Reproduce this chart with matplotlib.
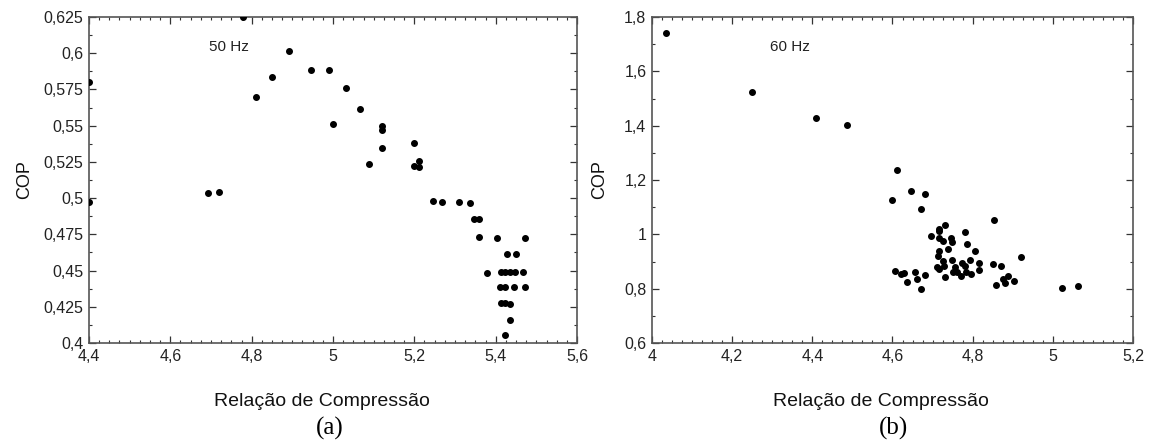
import matplotlib
matplotlib.use("Agg")
import matplotlib.pyplot as plt
from matplotlib.ticker import MultipleLocator, FuncFormatter

# Panel (a): 50 Hz
x50 = [4.400, 4.400, 4.693, 4.720, 4.779, 4.811, 4.850, 4.892, 4.946, 4.989,
       5.033, 5.066, 5.001, 5.121, 5.121, 5.121, 5.088, 5.198, 5.198, 5.211,
       5.211, 5.245, 5.268, 5.311, 5.336, 5.346, 5.358, 5.358, 5.403, 5.472,
       5.427, 5.450, 5.379, 5.412, 5.424, 5.435, 5.447, 5.468, 5.411, 5.424,
       5.446, 5.473, 5.412, 5.424, 5.436, 5.436, 5.424]
cop50 = [0.580, 0.4975, 0.5037, 0.504, 0.625, 0.570, 0.5836, 0.6015, 0.5884, 0.5884,
         0.576, 0.5617, 0.551, 0.550, 0.547, 0.5348, 0.5233, 0.538, 0.5224, 0.5254,
         0.5217, 0.498, 0.4975, 0.4975, 0.4968, 0.4854, 0.4854, 0.4734, 0.4727, 0.4727,
         0.4614, 0.4614, 0.4485, 0.449, 0.449, 0.449, 0.449, 0.449, 0.4384, 0.4384,
         0.4384, 0.4384, 0.4274, 0.4274, 0.4267, 0.4159, 0.4057]

# Panel (b): 60 Hz
x60 = [4.036, 4.250, 4.410, 4.4865, 4.610, 4.599, 4.645, 4.680, 4.670, 4.852,
       4.921, 5.023, 5.064, 4.696, 4.715, 4.717, 4.730, 4.716, 4.726, 4.746,
       4.749, 4.780, 4.786, 4.738, 4.716, 4.805, 4.713, 4.727, 4.749, 4.774,
       4.793, 4.815, 4.712, 4.729, 4.781, 4.756, 4.750, 4.760, 4.772, 4.784,
       4.795, 4.815, 4.730, 4.716, 4.851, 4.870, 4.8575, 4.876, 4.887, 4.880,
       4.902, 4.606, 4.620, 4.628, 4.637, 4.657, 4.662, 4.682, 4.672]
cop60 = [1.740, 1.5227, 1.429, 1.402, 1.2367, 1.1275, 1.159, 1.148, 1.093, 1.0527,
         0.9165, 0.8035, 0.8086, 0.9938, 1.0207, 1.0125, 1.0354, 0.9853, 0.9754, 0.9877,
         0.9717, 1.0097, 0.9655, 0.946, 0.9386, 0.9397, 0.919, 0.9018, 0.9055, 0.8956,
         0.9055, 0.8944, 0.8797, 0.882, 0.8845, 0.881, 0.8624, 0.8613, 0.8466, 0.860,
         0.8529, 0.870, 0.843, 0.871, 0.892, 0.8845, 0.8146, 0.8356, 0.8455, 0.8208,
         0.829, 0.865, 0.855, 0.8587, 0.8245, 0.8613, 0.8356, 0.850, 0.7976]

xlabel = "Relação de Compressão"
ylabel = "COP"

plt.rcParams['font.family'] = ['Liberation Sans', 'DejaVu Sans']

fig = plt.figure(figsize=(11.49, 4.45), dpi=100)
axa = fig.add_axes([89/1149, 1-343/445, (577-89)/1149, (343-17)/445])
axb = fig.add_axes([652/1149, 1-343/445, (1133-652)/1149, (343-17)/445])

def fmt(v, pos):
    return ("%g" % round(v, 4)).replace(".", ",")

def style(ax, xlim, ylim, xmaj, xmin, ymaj, ymin):
    ax.set_xlim(*xlim)
    ax.set_ylim(*ylim)
    ax.xaxis.set_major_locator(MultipleLocator(xmaj))
    ax.xaxis.set_minor_locator(MultipleLocator(xmin))
    ax.yaxis.set_major_locator(MultipleLocator(ymaj))
    ax.yaxis.set_minor_locator(MultipleLocator(ymin))
    ax.xaxis.set_major_formatter(FuncFormatter(fmt))
    ax.yaxis.set_major_formatter(FuncFormatter(fmt))
    ax.tick_params(which='both', direction='in', top=True, right=True,
                   colors='#333333', labelcolor='#222222', labelsize=11.5)
    ax.tick_params(which='major', length=5, width=0.9, pad=4)
    ax.tick_params(which='minor', length=2.5, width=0.8)
    for s in ax.spines.values():
        s.set_color('#555555')
        s.set_linewidth(1.2)

axa.scatter(x50, cop50, s=16, color='black', zorder=3)
axb.scatter(x60, cop60, s=16, color='black', zorder=3)

style(axa, (4.4, 5.6), (0.4, 0.625), 0.2, 0.025, 0.025, 0.0125)
style(axb, (4.0, 5.2), (0.6, 1.8), 0.2, 0.025, 0.2, 0.1)

axa.text(4.695, 0.604, "50 Hz", fontsize=11, color='#222222', va='center', ha='left')
axb.text(4.294, 1.689, "60 Hz", fontsize=11, color='#222222', va='center', ha='left')

fig.text(322/1149, 1-401/445, xlabel, fontsize=14, ha='center', va='center', color='#111111')
fig.text(881/1149, 1-401/445, xlabel, fontsize=14, ha='center', va='center', color='#111111')
fig.text(25/1149, 1-180/445, ylabel, fontsize=13, ha='center', va='center', rotation=90, color='#111111')
fig.text(600/1149, 1-180/445, ylabel, fontsize=13, ha='center', va='center', rotation=90, color='#111111')

fig.text(330/1149, 1-428/445, "(a)", fontsize=18, ha='center', va='center',
         family=['Liberation Serif', 'DejaVu Serif'])
fig.text(894/1149, 1-428/445, "(b)", fontsize=18, ha='center', va='center',
         family=['Liberation Serif', 'DejaVu Serif'])

fig.savefig("out.png", dpi=100)
